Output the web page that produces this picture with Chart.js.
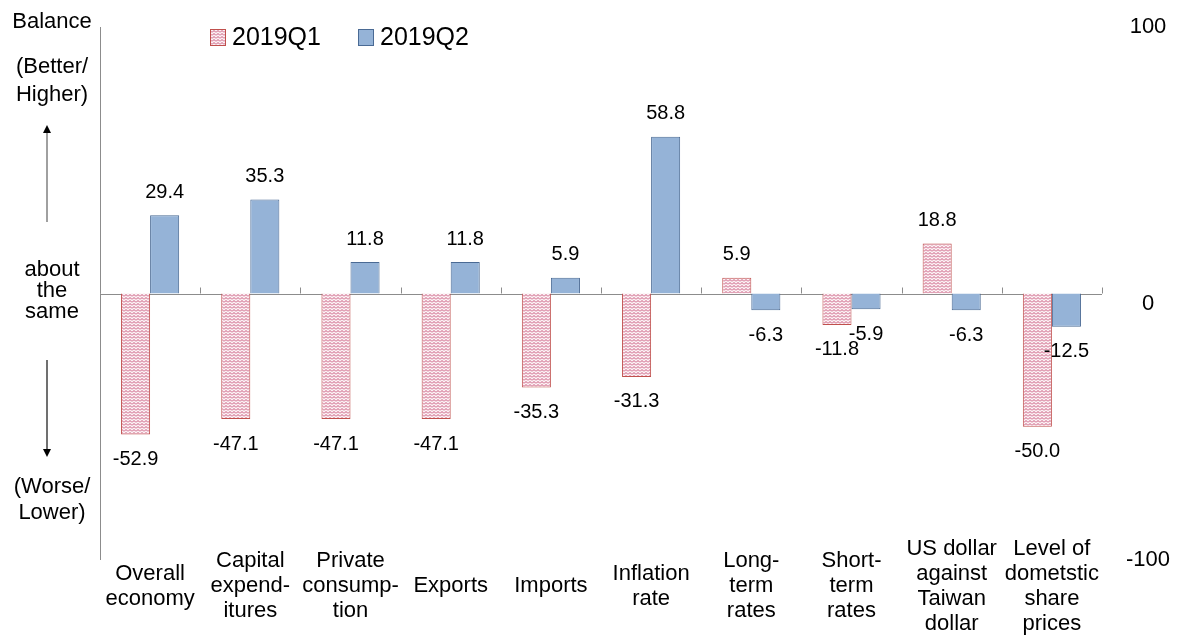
<!DOCTYPE html>
<html>
<head>
<meta charset="utf-8">
<script src="https://cdn.jsdelivr.net/npm/chart.js@4"></script>
<style>
  body { margin: 0; background: #fff; }
  canvas { display: block; }
</style>
</head>
<body>
<canvas id="chart" width="1178" height="643"></canvas>
<script>
const categories = [
  ['Overall', 'economy'],
  ['Capital', 'expend-', 'itures'],
  ['Private', 'consump-', 'tion'],
  ['Exports'],
  ['Imports'],
  ['Inflation', 'rate'],
  ['Long-', 'term', 'rates'],
  ['Short-', 'term', 'rates'],
  ['US dollar', 'against', 'Taiwan', 'dollar'],
  ['Level of', 'dometstic', 'share', 'prices'],
];
const q1Values = [-52.9, -47.1, -47.1, -47.1, -35.3, -31.3, 5.9, -11.8, 18.8, -50.0];
const q2Values = [29.4, 35.3, 11.8, 11.8, 5.9, 58.8, -6.3, -5.9, -6.3, -12.5];
const seriesNames = ['2019Q1', '2019Q2'];
const yTicks = [100, 0, -100];

const FONT = '"Liberation Sans", Arial, sans-serif';

// red zigzag hatch used by the 2019Q1 bars
function makeHatch() {
  const tile = document.createElement('canvas');
  tile.width = 4;
  tile.height = 3;
  const c = tile.getContext('2d');
  c.fillStyle = '#fbf1f4';
  c.fillRect(0, 0, 4, 3);
  c.strokeStyle = '#c8557a';
  c.lineWidth = 1;
  c.beginPath();
  c.moveTo(0, 2.5);
  c.lineTo(2, 0.5);
  c.lineTo(4, 2.5);
  c.stroke();
  return document.getElementById('chart').getContext('2d').createPattern(tile, 'repeat');
}
const hatch = makeHatch();

const decorations = {
  id: 'decorations',
  beforeDatasetsDraw(chart) {
    const { ctx, chartArea: a, scales: { x, y } } = chart;
    const zero = y.getPixelForValue(0);
    ctx.save();
    ctx.strokeStyle = '#8c8c8c';
    ctx.lineWidth = 1;
    // left axis line
    ctx.beginPath();
    ctx.moveTo(a.left + 0.5, a.top);
    ctx.lineTo(a.left + 0.5, a.bottom);
    ctx.stroke();
    // zero line with ticks at category boundaries
    ctx.beginPath();
    ctx.moveTo(a.left, Math.round(zero) + 0.5);
    ctx.lineTo(a.right, Math.round(zero) + 0.5);
    const step = x.getPixelForValue(1) - x.getPixelForValue(0);
    for (let i = 0; i <= categories.length; i += 1) {
      const px = Math.round(x.getPixelForValue(i) - step / 2) + 0.5;
      ctx.moveTo(px, zero - 6);
      ctx.lineTo(px, zero);
    }
    ctx.stroke();
    ctx.restore();
  },
  afterDatasetsDraw(chart) {
    const { ctx, scales: { x, y } } = chart;
    ctx.save();
    ctx.fillStyle = '#000';
    ctx.textAlign = 'center';
    ctx.textBaseline = 'middle';

    // value labels
    ctx.font = `20px ${FONT}`;
    chart.data.datasets.forEach((ds, di) => {
      chart.getDatasetMeta(di).data.forEach((el, i) => {
        const v = ds.data[i];
        const ty = v >= 0 ? el.y - 23 : el.y + 25;
        ctx.fillText(v.toFixed(1), el.x, ty);
      });
    });

    // category labels, centred block under the plot
    ctx.font = `22px ${FONT}`;
    categories.forEach((lines, i) => {
      const cx = x.getPixelForValue(i);
      const lh = 25;
      const top = 586 - ((lines.length - 1) * lh) / 2;
      lines.forEach((t, j) => ctx.fillText(t, cx, top + j * lh));
    });

    // right tick labels
    yTicks.forEach((t) => {
      const py = y.getPixelForValue(t) + (t === 0 ? 10 : 0);
      ctx.fillText(String(t), 1148, py);
    });

    // left side annotations
    const lx = 52;
    [['Balance', 22], ['(Better/', 67], ['Higher)', 95], ['about', 270], ['the', 291],
      ['same', 312], ['(Worse/', 487], ['Lower)', 513]].forEach(([t, ty]) => ctx.fillText(t, lx, ty));

    // arrows
    ctx.lineWidth = 1.5;
    ctx.strokeStyle = '#808080';
    ctx.fillStyle = '#000';
    ctx.beginPath();
    ctx.moveTo(47, 222);
    ctx.lineTo(47, 131);
    ctx.stroke();
    ctx.beginPath();
    ctx.moveTo(47, 125);
    ctx.lineTo(43, 133);
    ctx.lineTo(51, 133);
    ctx.closePath();
    ctx.fill();
    ctx.strokeStyle = '#404040';
    ctx.beginPath();
    ctx.moveTo(47, 360);
    ctx.lineTo(47, 451);
    ctx.stroke();
    ctx.beginPath();
    ctx.moveTo(47, 457);
    ctx.lineTo(43, 449);
    ctx.lineTo(51, 449);
    ctx.closePath();
    ctx.fill();

    // legend
    ctx.textAlign = 'left';
    ctx.font = `25px ${FONT}`;
    const swatches = [[210, hatch, '#c0504d'], [358, '#95b3d7', '#4a6a94']];
    swatches.forEach(([sx, fill, border], k) => {
      ctx.fillStyle = fill;
      ctx.fillRect(sx, 29, 16, 17);
      ctx.strokeStyle = border;
      ctx.lineWidth = 1;
      ctx.strokeRect(sx + 0.5, 29.5, 15, 16);
      ctx.fillStyle = '#000';
      ctx.fillText(seriesNames[k], sx + 22, 38);
    });
    ctx.restore();
  },
};

new Chart(document.getElementById('chart'), {
  type: 'bar',
  data: {
    labels: categories,
    datasets: [
      {
        label: seriesNames[0],
        data: q1Values,
        backgroundColor: hatch,
        borderColor: '#c0504d',
        borderWidth: 1,
        categoryPercentage: 0.58,
        barPercentage: 1,
      },
      {
        label: seriesNames[1],
        data: q2Values,
        backgroundColor: '#95b3d7',
        borderColor: '#4a6a94',
        borderWidth: 1,
        categoryPercentage: 0.58,
        barPercentage: 1,
      },
    ],
  },
  options: {
    responsive: false,
    animation: false,
    layout: { padding: { left: 100, right: 76, top: 27, bottom: 83 } },
    plugins: { legend: { display: false }, tooltip: { enabled: false } },
    scales: {
      x: { display: false },
      y: { display: false, min: -100, max: 100 },
    },
  },
  plugins: [decorations],
});
</script>
</body>
</html>
